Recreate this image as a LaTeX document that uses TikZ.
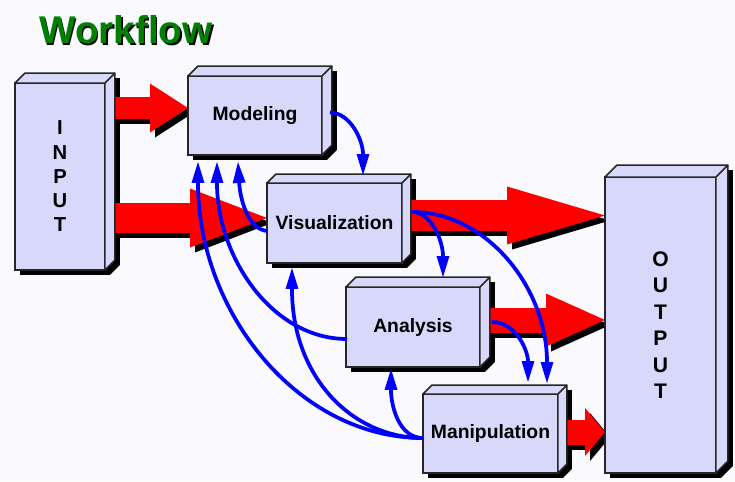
\documentclass[tikz,border=0pt]{standalone}
\usepackage{fontspec}
\setmainfont{Liberation Sans}
\usetikzlibrary{calc,arrows.meta}
\definecolor{lav}{RGB}{216,216,250}
\definecolor{paper}{RGB}{250,250,254}
\definecolor{wfgreen}{RGB}{0,128,0}
\pgfdeclarelayer{shade}
\pgfdeclarelayer{flow}
\pgfsetlayers{shade,flow,main}
% 3d look for a box node: #1 node, #2 depth (px)
\newcommand{\cuboid}[2]{%
	\begin{pgfonlayer}{shade}
		\fill[black] ($(#1.north west)+(5,5)$) -- ($(#1.north west)+(#2+5,-#2+5)$) -- ($(#1.north east)+(#2+5,-#2+5)$) -- ($(#1.south east)+(#2+5,-#2+5)$) -- ($(#1.south east)+(5,5)$) -- ($(#1.south west)+(5,5)$) -- cycle;
	\end{pgfonlayer}
	\draw[boxside] (#1.north west) -- ($(#1.north west)+(#2,-#2)$) -- ($(#1.north east)+(#2,-#2)$) -- ($(#1.south east)+(#2,-#2)$) -- (#1.south east) -- (#1.north east) -- cycle;
	\draw[boxside] (#1.north east) -- ($(#1.north east)+(#2,-#2)$);
}
% big red arrow with its shadow: from, to, shaft, head length, head width
\newcommand{\redarrow}[5]{%
	\draw[line width=#3, -{Triangle[length=#4,width=#5,line width=0pt]}, black, transform canvas={xshift=1mm,yshift=-1mm}] (#1) -- (#2);
	\draw[line width=#3, -{Triangle[length=#4,width=#5,line width=0pt]}, red] (#1) -- (#2);
}

\begin{document}
\begin{tikzpicture}[x=0.02cm, y=-0.02cm,
	block/.style={draw=black!85, fill=lav, line width=0.3mm, inner sep=0pt, outer sep=0pt, font=\fontsize{11}{13}\selectfont\bfseries},
	boxside/.style={draw=black!85, fill=lav, line width=0.3mm, line join=round},
	tower/.style={block, align=center, font=\fontsize{11.5}{13.8}\selectfont\bfseries},
	feed/.style={blue, line width=0.75mm, -{Triangle[length=4.2mm,width=2.6mm,line width=0pt]}},
	titletext/.style={font=\fontsize{22}{26}\selectfont\bfseries}]
	%%%%% START %%%%%
	\begin{pgfonlayer}{shade}
		\fill[paper] (0,0) rectangle (735,481);
	\end{pgfonlayer}
	\useasboundingbox (0,0) rectangle (735,481);
	
	\node[titletext, black] (titleshade) at (127.5,31.5) {Workflow};
	\node[titletext, text=wfgreen] (title) at (126,30) {Workflow};
	
	% boxes
	\node[tower, minimum width=1.8cm, minimum height=3.74cm] (inp) at (60,176.5) {I\\N\\P\\U\\T};
	\cuboid{inp}{10}
	\node[tower, minimum width=2.22cm, minimum height=5.92cm, font=\fontsize{12}{15.1}\selectfont\bfseries] (out) at (660.5,325) {O\\U\\T\\P\\U\\T};
	\cuboid{out}{12}
	\node[block, minimum width=2.68cm, minimum height=1.58cm] (model) at (255,115.5) {Modeling};
	\cuboid{model}{10}
	\node[block, minimum width=2.7cm, minimum height=1.6cm] (vis) at (334.5,223) {Visualization};
	\cuboid{vis}{9}
	\node[block, minimum width=2.68cm, minimum height=1.6cm] (ana) at (413,327) {Analysis};
	\cuboid{ana}{10}
	\node[block, minimum width=2.7cm, minimum height=1.58cm] (man) at (490.5,433.5) {Manipulation};
	\cuboid{man}{9}
	
	% red arrows
	\begin{pgfonlayer}{flow}
		\coordinate (r1) at ([yshift=1.5mm]model.west);
		\coordinate (r2) at ([yshift=1mm]vis.west);
		\coordinate (r3) at ([yshift=1.5mm]vis.east);
		\coordinate (r4) at ([yshift=1.4mm]ana.east);
		\coordinate (r5) at ([yshift=0.3mm]man.east);
		\redarrow{r1 -| inp.east}{r1}{4.4mm}{7.6mm}{9.8mm}
		\redarrow{r2 -| inp.east}{r2}{6mm}{15.4mm}{11.8mm}
		\redarrow{r3}{r3 -| out.west}{6.2mm}{19.6mm}{11.6mm}
		\redarrow{r4}{r4 -| out.west}{5mm}{11.8mm}{10.6mm}
		\redarrow{r5}{r5 -| out.west}{5mm}{4mm}{9.6mm}
	\end{pgfonlayer}
	
	% blue arrows
	\coordinate (v0) at ($(vis.east)+(10,-11)$);
	\coordinate (m0) at ($(man.west)+(0,4.5)$);
	\draw[feed] ($(model.east)+(8,-3)$) .. controls +(20,0) and +(0,-35) .. ($(vis.north)+(28.5,-8)$);
	\draw[feed] (v0) .. controls +(20,0) and +(0,-35) .. ($(ana.north)+(30,-10)$);
	\draw[feed] (v0) .. controls +(75,0) and +(0,-95) .. ($(man.north)+(56.5,-11)$);
	\draw[feed] ($(ana.east)+(12,-5)$) .. controls +(25,0) and +(0,-30) .. ($(man.north)+(37.5,-12)$);
	\draw[feed] ($(vis.west)+(0,8)$) .. controls +(-20,-2) and +(2,35) .. ($(model.south)+(-17,7)$);
	\draw[feed] ($(ana.west)+(1,12)$) .. controls +(-75,0) and +(0,95) .. ($(model.south)+(-38,7)$);
	\draw[feed] (m0) .. controls +(-125,0) and +(0,150) .. ($(model.south)+(-57,7)$);
	\draw[feed] (m0) .. controls +(-70,0) and +(0,110) .. ($(vis.south)+(-42.5,5)$);
	\draw[feed] (m0) .. controls +(-25,0) and +(0,35) .. ($(ana.south)+(-22,2)$);
	%%%%% END %%%%%
\end{tikzpicture}
\end{document}
